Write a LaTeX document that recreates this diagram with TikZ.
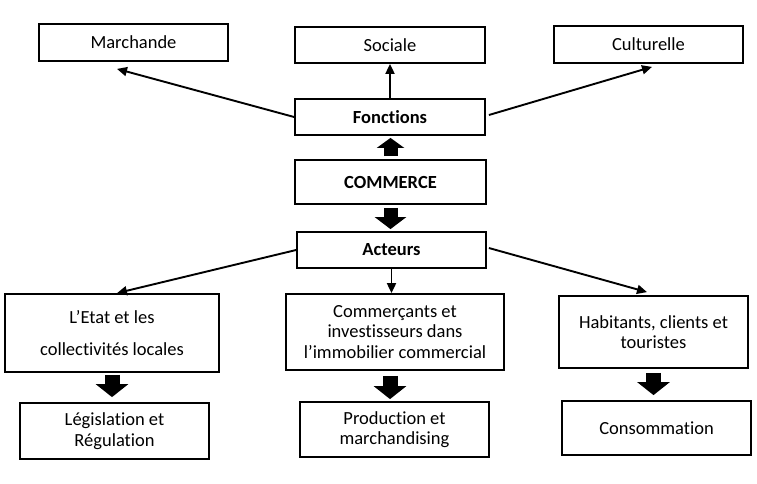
\documentclass[tikz,border=0pt]{standalone}
\usepackage{fontspec}
\setmainfont{Carlito}[Ligatures={NoCommon}]
\usetikzlibrary{arrows.meta}
\begin{document}
\begin{tikzpicture}[x=1pt,y=-1pt,
  box/.style={draw, line width=1.8pt, align=center, inner sep=0pt,
    font=\fontsize{18.5}{20.5}\selectfont},
  thinarrow/.style={line width=1.9pt, -{Triangle[length=10pt,width=9pt]}},
  blockarrow/.style={line width=15pt, -{Triangle[length=13pt,width=32pt]}}]
\useasboundingbox (0,0) rectangle (757,483);
% top row
\node[box, minimum width=189pt, minimum height=37pt] (march) at (133.5,42.5) {Marchande};
\node[box, minimum width=190pt, minimum height=36pt] (soc) at (390,45) {Sociale};
\node[box, minimum width=189pt, minimum height=37pt] (cult) at (648.5,44.5) {Culturelle};
% centre column
\node[box, minimum width=190pt, minimum height=36pt, font=\fontsize{18.5}{20.5}\selectfont\bfseries] (fonc) at (390,117) {Fonctions};
\node[box, minimum width=191pt, minimum height=44pt, font=\fontsize{18.5}{20.5}\selectfont\bfseries] (comm) at (390.5,182) {COMMERCE};
\node[box, minimum width=189pt, minimum height=36pt, font=\fontsize{18.5}{20.5}\selectfont\bfseries] (act) at (391.5,250) {Acteurs};
% actors
\node[box, minimum width=214pt, minimum height=78pt, font=\fontsize{18.5}{32}\selectfont] (etat) at (112,333) {L’Etat et les\\collectivités locales};
\node[box, minimum width=218pt, minimum height=76pt] (comr) at (395,332) {Commerçants et\\investisseurs dans\\l’immobilier commercial};
\node[box, minimum width=189pt, minimum height=72pt] (hab) at (653.5,332) {Habitants, clients et\\touristes};
% bottom row
\node[box, minimum width=189pt, minimum height=56pt] (leg) at (114.5,431) {Législation et\\Régulation};
\node[box, minimum width=189pt, minimum height=55pt] (prod) at (394.5,429.5) {Production et\\marchandising};
\node[box, minimum width=189pt, minimum height=54pt] (cons) at (656.5,428) {Consommation};
% thin arrows
\draw[thinarrow] (fonc.west) -- ([shift={(-16.5,7)}]march.south);
\draw[thinarrow] (fonc.north) -- (soc.south);
\draw[thinarrow] ([shift={(3,-2)}]fonc.east) -- ([shift={(3.5,3)}]cult.south);
\draw[thinarrow] (act.west) -- ([shift={(5,0)}]etat.north);
\draw[thinarrow] (act.south) -- (act.south |- comr.north);
\draw[thinarrow] ([shift={(2,-2)}]act.east) -- ([shift={(-6.5,-3)}]hab.north);
% block arrows
\draw[line width=14pt, -{Triangle[length=10pt,width=27pt]}, shorten <=3pt, shorten >=2pt] (comm.north) -- (comm.north |- fonc.south);
\draw[line width=14pt, -{Triangle[length=12pt,width=31pt]}, shorten <=3pt, shorten >=2pt] (comm.south) -- (comm.south |- act.north);
\draw[blockarrow, shorten <=2pt, shorten >=5pt] (etat.south) -- (etat.south |- leg.north);
\draw[blockarrow, shorten <=5pt, shorten >=2pt] ([xshift=-5pt]comr.south) -- ([xshift=-5pt]comr.south |- prod.north);
\draw[blockarrow, shorten <=4pt, shorten >=5pt] (hab.south) -- (hab.south |- cons.north);
\end{tikzpicture}
\end{document}
